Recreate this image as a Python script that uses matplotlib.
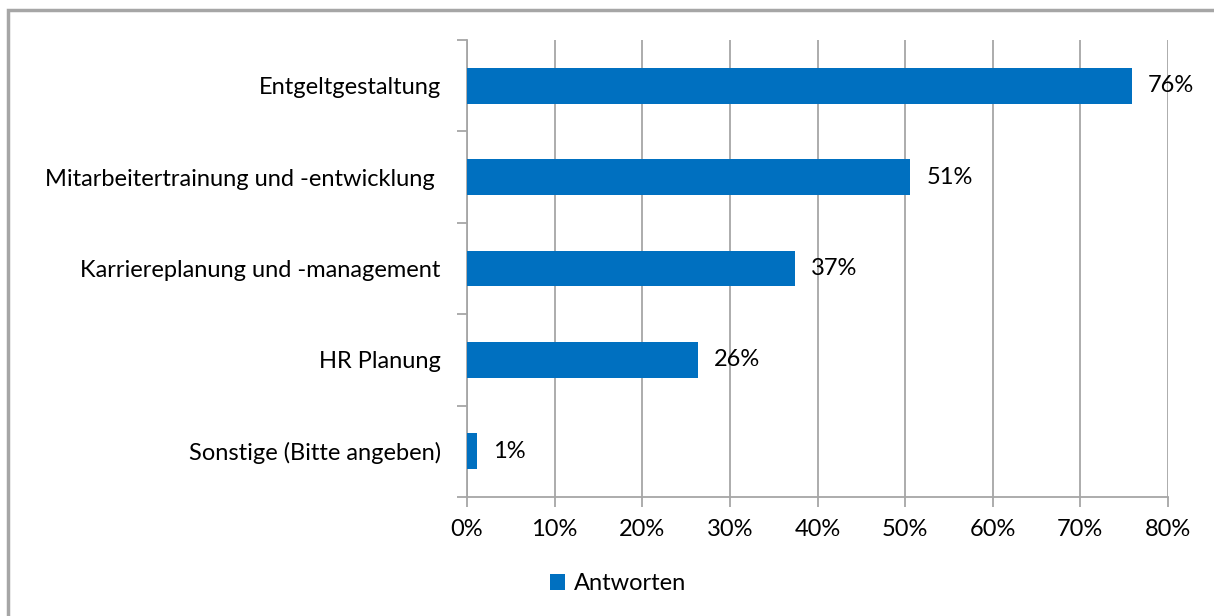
import matplotlib.pyplot as plt
from matplotlib.patches import Rectangle
from matplotlib.ticker import FixedLocator

categories = ["Entgeltgestaltung", "Mitarbeitertrainung und -entwicklung ",
              "Karriereplanung und -management", "HR Planung",
              "Sonstige (Bitte angeben)"]
values = [75.9, 50.6, 37.4, 26.4, 1.1]
labels = ["76%", "51%", "37%", "26%", "1%"]
x_ticks = [0, 10, 20, 30, 40, 50, 60, 70, 80]

plt.rcParams['font.family'] = ['Lato', 'DejaVu Sans']
blue = '#0070C0'
grey = '#A6A6A6'
fs = 17

fig = plt.figure(figsize=(12.14, 6.16), dpi=100)
ax = fig.add_axes([0.3847, 0.1932, 0.9621 - 0.3847, 0.9351 - 0.1932])

y = list(range(len(categories)))
ax.barh(y, values, height=0.39, color=blue, zorder=3, label='Antworten')
for yi, v, lab in zip(y, values, labels):
    ax.annotate(lab, (v, yi), xytext=(16, 0), textcoords='offset pixels',
                va='center', ha='left', fontsize=fs, color='black', zorder=4)

ax.set_xlim(0, 80)
ax.set_ylim(len(categories) - 0.5, -0.5)
ax.set_xticks(x_ticks)
ax.set_xticklabels([f"{t}%" for t in x_ticks], fontsize=fs)
ax.set_yticks(y)
ax.set_yticklabels(categories, fontsize=fs)
ax.tick_params(axis='y', which='major', length=0, pad=19)
ax.yaxis.set_minor_locator(FixedLocator([i - 0.5 for i in range(len(categories) + 1)]))
ax.tick_params(axis='y', which='minor', length=7, width=1.3, color=grey)
ax.tick_params(axis='x', length=7, width=1.3, color=grey, pad=9)
ax.grid(axis='x', color=grey, linewidth=1.3, zorder=0)

for s in ['top', 'right']:
    ax.spines[s].set_visible(False)
for s in ['left', 'bottom']:
    ax.spines[s].set_color(grey)
    ax.spines[s].set_linewidth(1.3)

fig.legend(loc='center', bbox_to_anchor=(0.509, 0.052), frameon=False,
           fontsize=fs, handlelength=0.65, handleheight=0.65, handletextpad=0.35)

fig.patches.append(Rectangle((8 / 1214, -0.1), 1.2, 1 - 10 / 616 + 0.1,
                             transform=fig.transFigure, fill=False,
                             edgecolor=grey, linewidth=2.5))

fig.savefig('out.png', dpi=100)
